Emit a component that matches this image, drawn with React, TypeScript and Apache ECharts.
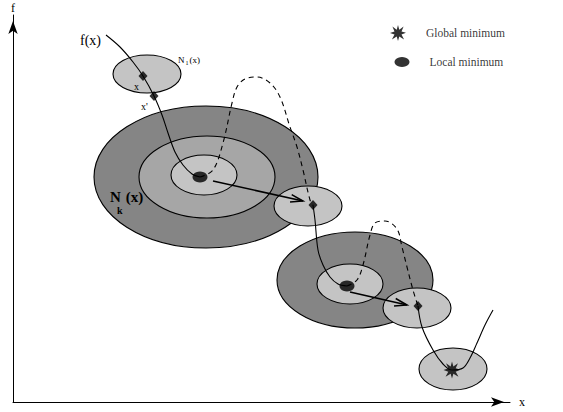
import React, { useEffect, useRef } from 'react';
import * as echarts from 'echarts';

// Diagram space: x 0..497, y 0..387 (origin at the axes' corner)
const ellipseCenters = [[134, 328], [193, 225], [194, 225], [191, 227], [342, 122], [337, 118], [295, 196], [404, 94], [440, 33]];
const ellipseRadii = [[34, 19], [112, 71], [68, 41], [33, 20], [78, 48], [33, 20], [34, 20], [34, 20], [34, 21]];
const ellipseShade = [2, 0, 1, 2, 0, 2, 2, 2, 2];

const curveStart = [[93, 367], [107, 355], [120, 340], [130, 326], [141, 306], [149, 287], [155, 269], [162, 250], [170, 237], [179, 228], [187, 225]];
const shakeDash1 = [[187, 225], [200, 232], [210, 259], [219, 299], [224, 315], [232, 323], [244, 325], [257, 319], [267, 305], [277, 275], [284, 255], [290, 232], [297, 202], [300, 197]];
const descent2 = [[300, 197], [302, 182], [305, 152], [310, 137], [317, 125], [325, 118], [334, 116]];
const shakeDash2 = [[334, 116], [344, 122], [350, 137], [357, 167], [362, 179], [372, 181], [384, 173], [389, 155], [394, 135], [400, 112], [405, 96]];
const descent3 = [[405, 96], [409, 75], [420, 52], [430, 38], [439, 32], [450, 34], [457, 44], [464, 59], [472, 77], [480, 92]];

const movePoints = [[130, 326], [141, 306], [300, 197], [405, 96]];
const localMinima = [[187, 225], [334, 116]];
const globalMinima = [[439, 32]];
const moveArrows = [[200, 221, 290, 201], [337, 110, 394, 97]];

const legendNames = ['Global minimum', 'Local minimum'];
const legendAnchors = [[385, 369], [389, 340]];

const annotationTexts = ['{a|f(x)}', '{b|x}', "{b|x'}", '{c|N}{d|1}{c|(x)}', '{e|N}{f| }{e|(x)}', '{g|k}'];
const annotationAnchors = [[67, 362], [121, 316], [128, 296], [165, 342], [97, 205], [104, 192]];

const shades = ['#858585', '#a6a6a6', '#c4c4c4'];
const starPath = 'path://M50,0 L58,30 L85,10 L72,40 L100,48 L72,60 L88,90 L58,72 L50,100 L42,72 L12,90 L28,60 L0,50 L28,40 L15,10 L42,30 Z';
const serif = 'Liberation Serif';

const richStyles = {
  a: { fontFamily: serif, fontSize: 14, fill: '#000', color: '#000' },
  b: { fontFamily: serif, fontSize: 10, fill: '#000', color: '#000' },
  c: { fontFamily: serif, fontSize: 9, fill: '#000', color: '#000' },
  d: { fontFamily: serif, fontSize: 6, fill: '#000', color: '#000', verticalAlign: 'bottom', padding: [6, 1, 0, 1] },
  e: { fontFamily: serif, fontSize: 15, fontWeight: 'bold', fill: '#000', color: '#000' },
  f: { fontFamily: serif, fontSize: 6, fill: '#000', color: '#000', width: 5 },
  g: { fontFamily: serif, fontSize: 10, fontWeight: 'bold', fill: '#000', color: '#000' },
};

export default function App() {
  const ref = useRef<HTMLDivElement>(null);
  useEffect(() => {
    if (!ref.current) return;
    const chart = echarts.init(ref.current, null, { renderer: 'svg' });
    const ellipseData = ellipseCenters.map((c, i) => [c[0], c[1], ellipseRadii[i][0], ellipseRadii[i][1], ellipseShade[i]]);
    const annotationData = annotationAnchors.map((p, i) => [p[0], p[1], i]);
    const lineSeries = (data: number[][], dashed: boolean) => ({
      type: 'line',
      data,
      smooth: 0.35,
      symbol: 'none',
      z: 3,
      silent: true,
      lineStyle: { color: '#000', width: 1.1, type: dashed ? [5, 4] : 'solid' },
    });
    const axisCommon = {
      type: 'value',
      axisTick: { show: false },
      axisLabel: { show: false },
      splitLine: { show: false },
      nameLocation: 'end',
      nameTextStyle: { fontFamily: serif, fontSize: 12, color: '#000', fontWeight: 'normal' },
    };
    chart.setOption({
      animation: false,
      grid: { left: 13, right: 53, top: 15, bottom: 10 },
      xAxis: {
        ...axisCommon,
        min: 0,
        max: 497,
        name: 'x',
        nameGap: 9,
        axisLine: { show: true, symbol: ['none', 'arrow'], symbolSize: [7, 13], symbolOffset: [0, -6], lineStyle: { color: '#000', width: 1 } },
      },
      yAxis: {
        ...axisCommon,
        min: 0,
        max: 387,
        name: 'f',
        nameGap: 1,
        axisLine: { show: true, symbol: ['none', 'arrow'], symbolSize: [7, 13], symbolOffset: [0, -6], lineStyle: { color: '#000', width: 1 } },
      },
      series: [
        {
          type: 'custom',
          z: 1,
          silent: true,
          clip: false,
          data: ellipseData,
          encode: { x: 0, y: 1 },
          renderItem: (params: any, api: any) => {
            const c = api.coord([api.value(0), api.value(1)]);
            const s = api.size([api.value(2), api.value(3)]);
            return {
              type: 'ellipse',
              shape: { cx: c[0], cy: c[1], rx: s[0], ry: s[1] },
              style: { fill: shades[api.value(4)], stroke: '#000', lineWidth: 1.1 },
            };
          },
        },
        lineSeries(curveStart, false),
        lineSeries(shakeDash1, true),
        lineSeries(descent2, false),
        lineSeries(shakeDash2, true),
        lineSeries(descent3, false),
        {
          type: 'custom',
          z: 4,
          silent: true,
          clip: false,
          data: moveArrows,
          encode: { x: [0, 2], y: [1, 3] },
          renderItem: (params: any, api: any) => {
            const p1 = api.coord([api.value(0), api.value(1)]);
            const p2 = api.coord([api.value(2), api.value(3)]);
            const a = Math.atan2(p2[1] - p1[1], p2[0] - p1[0]);
            const L = 13;
            const t = 0.3;
            const h1 = [p2[0] - L * Math.cos(a - t), p2[1] - L * Math.sin(a - t)];
            const h2 = [p2[0] - L * Math.cos(a + t), p2[1] - L * Math.sin(a + t)];
            const st = { stroke: '#000', lineWidth: 1.5, fill: 'none' };
            return {
              type: 'group',
              children: [
                { type: 'line', shape: { x1: p1[0], y1: p1[1], x2: p2[0], y2: p2[1] }, style: st },
                { type: 'polyline', shape: { points: [h1, p2, h2] }, style: st },
              ],
            };
          },
        },
        { type: 'scatter', z: 5, silent: true, symbol: 'diamond', symbolSize: [9, 10], itemStyle: { color: '#000' }, data: movePoints },
        { type: 'scatter', z: 5, silent: true, symbol: 'circle', symbolSize: [15, 11], itemStyle: { color: '#000' }, data: localMinima },
        { type: 'scatter', z: 5, silent: true, symbol: starPath, symbolSize: 17, itemStyle: { color: '#000' }, data: globalMinima },
        {
          type: 'scatter',
          z: 5,
          silent: true,
          data: legendAnchors.map((p, i) => ({
            value: p,
            name: legendNames[i],
            symbol: i === 0 ? starPath : 'circle',
            symbolSize: i === 0 ? 16 : [15, 10],
          })),
          itemStyle: { color: '#000' },
          label: {
            show: true,
            position: 'right',
            distance: 20,
            formatter: (p: any) => p.name,
            fontFamily: serif,
            fontSize: 11.5,
            color: '#000',
          },
        },
        {
          type: 'custom',
          z: 6,
          silent: true,
          clip: false,
          data: annotationData,
          encode: { x: 0, y: 1 },
          renderItem: (params: any, api: any) => {
            const c = api.coord([api.value(0), api.value(1)]);
            return {
              type: 'text',
              x: c[0],
              y: c[1],
              style: {
                text: annotationTexts[api.value(2)],
                rich: richStyles,
                fill: '#000',
                align: 'left',
                verticalAlign: 'middle',
                font: `10px ${serif}`,
              },
            };
          },
        },
      ],
    });
    return () => chart.dispose();
  }, []);
  return <div ref={ref} style={{ position: 'fixed', left: 0, top: 0, width: 563, height: 412, background: '#fff' }} />;
}
